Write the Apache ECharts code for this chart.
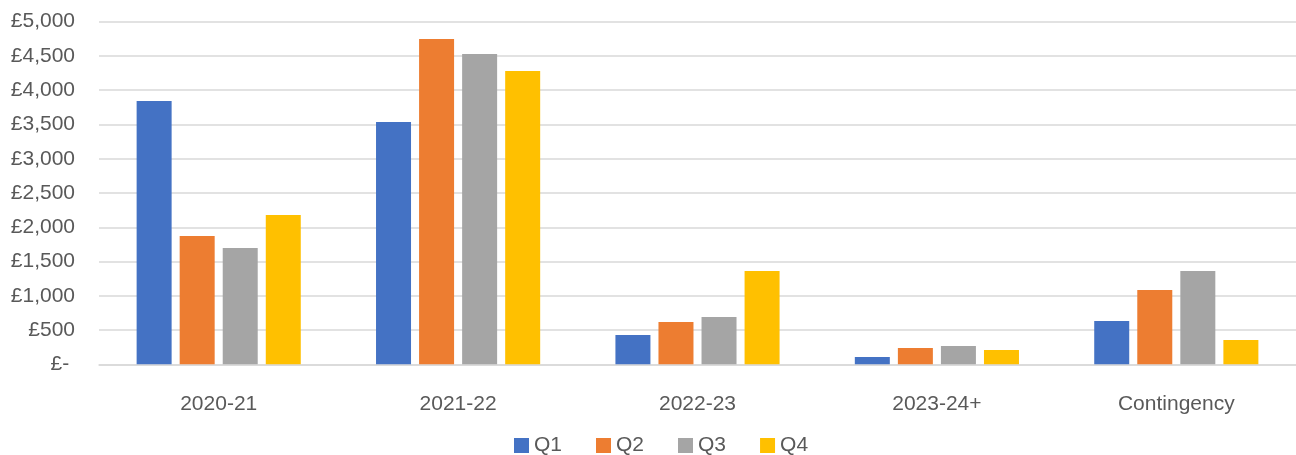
<!DOCTYPE html>
<html>
<head>
<meta charset="utf-8">
<script src="https://cdn.jsdelivr.net/npm/echarts@6/dist/echarts.min.js"></script>
<style>
html,body{margin:0;padding:0;background:#fff;}
#chart{width:1296px;height:455px;}
</style>
</head>
<body>
<div id="chart"></div>
<script>
const categories = ['2020-21', '2021-22', '2022-23', '2023-24+', 'Contingency'];
const seriesNames = ['Q1', 'Q2', 'Q3', 'Q4'];
const q1 = [3843, 3536, 428, 107, 632];
const q2 = [1872, 4748, 617, 238, 1084];
const q3 = [1697, 4529, 690, 267, 1362];
const q4 = [2179, 4281, 1362, 209, 355];
const colors = ['#4472C4', '#ED7D31', '#A5A5A5', '#FFC000'];

const FONT = '"Liberation Sans", Arial, sans-serif';
const chart = echarts.init(document.getElementById('chart'));
const seriesData = [q1, q2, q3, q4];
chart.setOption({
  animation: false,
  color: colors,
  grid: { left: 99, top: 21.7, width: 1200, height: 342.6, containLabel: false },
  legend: {
    data: seriesNames,
    left: 514,
    top: 435,
    padding: 0,
    itemWidth: 15,
    itemHeight: 15,
    itemGap: 34,
    icon: 'rect',
    textStyle: { fontFamily: FONT, fontSize: 21, color: '#595959' }
  },
  xAxis: {
    type: 'category',
    data: categories,
    axisTick: { show: false },
    axisLine: { show: true, lineStyle: { color: '#d9d9d9', width: 1.5 } },
    axisLabel: { fontFamily: FONT, fontSize: 21, color: '#595959', margin: 29 }
  },
  yAxis: {
    type: 'value',
    min: 0,
    max: 5000,
    interval: 500,
    axisLine: { show: false },
    axisTick: { show: false },
    splitLine: { lineStyle: { color: '#d9d9d9', width: 1.5 } },
    axisLabel: {
      fontFamily: FONT, fontSize: 21, color: '#595959', margin: 24,
      formatter: v => v === 0 ? '£- ' : '£' + v.toLocaleString('en-GB')
    }
  },
  series: seriesNames.map((n, i) => ({
    name: n,
    type: 'bar',
    data: seriesData[i],
    barWidth: 35,
    barGap: '23%'
  }))
});
</script>
</body>
</html>
